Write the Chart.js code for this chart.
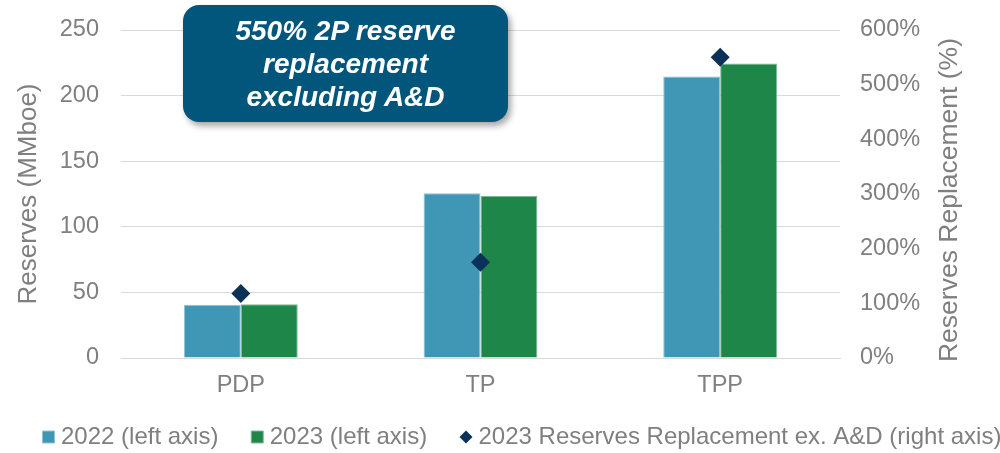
<!DOCTYPE html>
<html>
<head>
<meta charset="utf-8">
<script src="https://cdn.jsdelivr.net/npm/chart.js@4/dist/chart.umd.min.js"></script>
<style>
  html, body { margin: 0; padding: 0; background: #fff; overflow: hidden; }
  #wrap { position: relative; width: 1000px; height: 453px; overflow: hidden; }
  #callout {
    position: absolute; left: 183px; top: 5px; width: 325px; height: 117px;
    background: #03567b; border-radius: 16px;
    box-shadow: 3px 4px 6px rgba(0,0,0,0.35);
    color: #fff; font-family: "Liberation Sans", Arial, sans-serif;
    font-weight: bold; font-style: italic; font-size: 28px; line-height: 33px;
    text-align: center; box-sizing: border-box; padding-top: 9px;
  }
  #rightTitle {
    position: absolute; left: 748px; top: 185px; width: 400px; height: 30px;
    line-height: 30px; text-align: center; white-space: nowrap;
    font-family: "Liberation Sans", Arial, sans-serif; font-size: 26.5px; color: #7f7f7f;
    transform: rotate(-90deg);
  }
</style>
</head>
<body>
<div id="wrap">
  <canvas id="chart" width="1000" height="453"></canvas>
  <div id="callout">550% 2P reserve<br>replacement<br>excluding A&amp;D</div>
  <div id="rightTitle">Reserves Replacement (%)</div>
</div>
<script>
const categories = ['PDP', 'TP', 'TPP'];
const reserves2022 = [40.5, 125.5, 214.5];
const reserves2023 = [41, 123.5, 224.5];
const replacement2023 = [118, 175, 550];
const leftTicks = [0, 50, 100, 150, 200, 250];
const rightTicks = [0, 100, 200, 300, 400, 500, 600];

const grey = '#7f7f7f';
const font = 'Liberation Sans';
const diamondColor = '#0b3159';

// small diamond for the legend entry
function legendDiamond() {
    const c = document.createElement('canvas');
    c.width = 14; c.height = 14;
    const g = c.getContext('2d');
    g.fillStyle = diamondColor;
    g.beginPath();
    g.moveTo(7, 0.5); g.lineTo(13.5, 7); g.lineTo(7, 13.5); g.lineTo(0.5, 7);
    g.closePath();
    g.fill();
    return c;
}

// put the legend row where the original has it (first marker centred at x=48)
const legendShift = {
    id: 'legendShift',
    afterLayout(chart) {
        const lg = chart.legend;
        if (lg && lg.lineWidths) {
            const pad = lg.options.labels.padding;
            lg.lineWidths[0] = lg.left + pad + lg.right - 2 * 48;
        }
    }
};

// fixed axis sizes so the plot area sits where it does in the original
function fixWidth(w) {
    return axis => {
        axis.width = w;
        axis.paddingTop = 0;
        axis.paddingBottom = 0;
    };
}

document.addEventListener('DOMContentLoaded', function() {
    const ctx = document.getElementById('chart').getContext('2d');
    const diamondImg = legendDiamond();

    new Chart(ctx, {
        data: {
            labels: categories,
            datasets: [
                {
                    type: 'line',
                    label: '2023 Reserves Replacement ex. A&D (right axis)',
                    data: replacement2023,
                    yAxisID: 'y1',
                    showLine: false,
                    pointStyle: 'rectRot',
                    pointRadius: 9.5,
                    pointHoverRadius: 9.5,
                    backgroundColor: diamondColor,
                    borderColor: diamondColor,
                    borderWidth: 0,
                    order: 0
                },
                {
                    type: 'bar',
                    label: '2022 (left axis)',
                    data: reserves2022,
                    yAxisID: 'y',
                    backgroundColor: '#4096b5',
                    borderColor: '#8cc3d6',
                    borderWidth: 1,
                    pointStyle: 'rect',
                    categoryPercentage: 0.475,
                    barPercentage: 1.0,
                    order: 1
                },
                {
                    type: 'bar',
                    label: '2023 (left axis)',
                    data: reserves2023,
                    yAxisID: 'y',
                    backgroundColor: '#1f864a',
                    borderColor: '#7dbb95',
                    borderWidth: 1,
                    pointStyle: 'rect',
                    categoryPercentage: 0.475,
                    barPercentage: 1.0,
                    order: 2
                }
            ]
        },
        options: {
            responsive: false,
            animation: false,
            layout: { padding: { top: 30, left: 0, right: -10, bottom: -6 } },
            plugins: {
                tooltip: { enabled: false },
                legend: {
                    position: 'bottom',
                    labels: {
                        color: grey,
                        font: { family: font, size: 24 },
                        usePointStyle: true,
                        boxWidth: 1,
                        boxHeight: 12,
                        padding: 5,
                        sort: (a, b) => (a.datasetIndex === 0) - (b.datasetIndex === 0),
                        generateLabels: chart => {
                            const items = Chart.defaults.plugins.legend.labels.generateLabels(chart);
                            items.forEach(it => {
                                if (it.datasetIndex === 0) it.pointStyle = diamondImg;
                                else it.text += '     ';
                            });
                            return items;
                        }
                    }
                }
            },
            scales: {
                x: {
                    afterFit: axis => { axis.height = 62; },
                    grid: { display: false, drawTicks: false },
                    border: { display: true, color: '#d9d9d9' },
                    ticks: { color: grey, font: { family: font, size: 23.5 }, padding: 13 }
                },
                y: {
                    position: 'left',
                    min: 0,
                    max: 250,
                    afterBuildTicks: axis => { axis.ticks = leftTicks.map(v => ({ value: v })); },
                    afterFit: fixWidth(121),
                    grid: { color: '#d9d9d9', drawTicks: false },
                    border: { display: false },
                    ticks: { color: grey, font: { family: font, size: 23.5 }, padding: 22 },
                    title: {
                        display: true,
                        text: 'Reserves (MMboe)',
                        color: grey,
                        font: { family: font, size: 26 },
                        padding: { top: 13, bottom: 0 }
                    }
                },
                y1: {
                    position: 'right',
                    min: 0,
                    max: 600,
                    afterBuildTicks: axis => { axis.ticks = rightTicks.map(v => ({ value: v })); },
                    afterFit: fixWidth(170),
                    grid: { display: false, drawTicks: false },
                    border: { display: false },
                    ticks: {
                        color: grey,
                        font: { family: font, size: 23.5 },
                        padding: 20,
                        callback: v => v + '%'
                    }
                }
            }
        },
        plugins: [legendShift]
    });
});
</script>
</body>
</html>
